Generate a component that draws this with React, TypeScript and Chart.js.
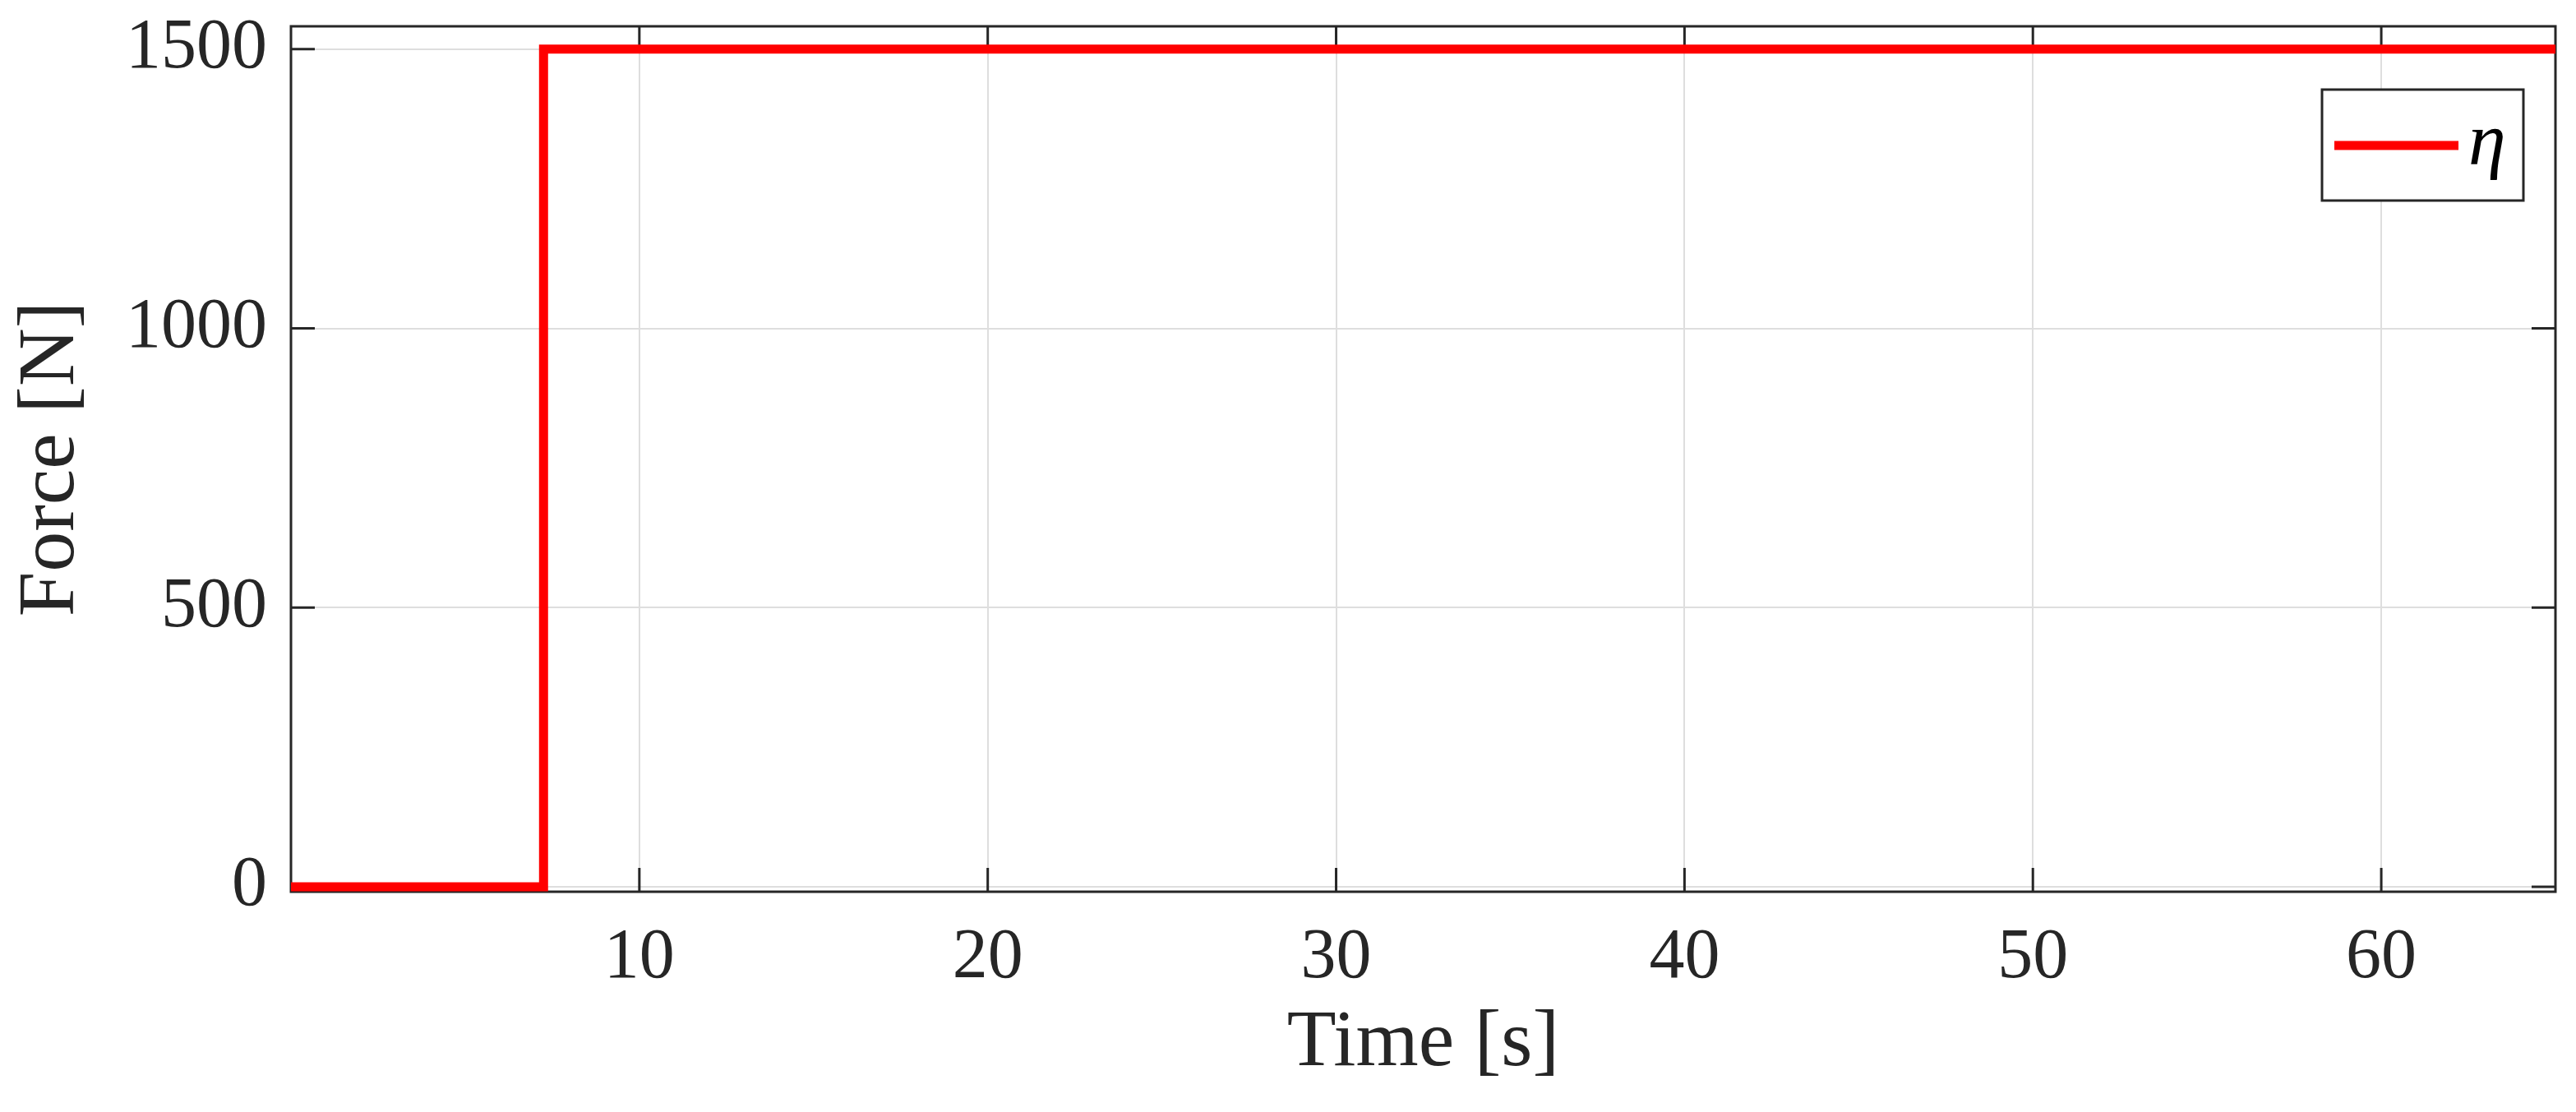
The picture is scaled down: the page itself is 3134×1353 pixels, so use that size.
import React, { useEffect, useRef } from 'react';
import { Chart, registerables } from 'chart.js';

Chart.register(...registerables);

const seriesLabel = 'η';
const timeSeconds = [0, 7.25, 7.25, 65];
const forceNewtons = [0, 0, 1500, 1500];
const xTickValues = [10, 20, 30, 40, 50, 60];
const yTickValues = [0, 500, 1000, 1500];
const xRange = [0, 65];
const yRange = [-9, 1541];
const xTitle = 'Time [s]';
const yTitle = 'Force [N]';

const FONT = "'Liberation Serif', 'Times New Roman', serif";
const INK = '#262626';
const RED = '#ff0000';

const frameAndTicks = {
  id: 'frameAndTicks',
  beforeDatasetsDraw(chart: any) {
    const { ctx, chartArea } = chart;
    const { left, right, top, bottom } = chartArea;
    const xs = chart.scales.x;
    const ys = chart.scales.y;
    const L = 29;
    ctx.save();
    ctx.strokeStyle = INK;
    ctx.lineWidth = 3;
    ctx.beginPath();
    xs.ticks.forEach((t: any) => {
      const px = xs.getPixelForValue(t.value);
      ctx.moveTo(px, bottom);
      ctx.lineTo(px, bottom - L);
      ctx.moveTo(px, top);
      ctx.lineTo(px, top + L);
    });
    ys.ticks.forEach((t: any) => {
      const py = ys.getPixelForValue(t.value);
      ctx.moveTo(left, py);
      ctx.lineTo(left + L, py);
      ctx.moveTo(right, py);
      ctx.lineTo(right - L, py);
    });
    ctx.stroke();
    ctx.strokeRect(left, top, right - left, bottom - top);
    ctx.restore();
  },
};

const boxedLegend = {
  id: 'boxedLegend',
  afterDraw(chart: any) {
    const { ctx, chartArea } = chart;
    const ds = chart.data.datasets[0];
    const bx = chartArea.right - 284;
    const by = chartArea.top + 77;
    const bw = 245;
    const bh = 135;
    ctx.save();
    ctx.fillStyle = '#ffffff';
    ctx.fillRect(bx, by, bw, bh);
    ctx.strokeStyle = INK;
    ctx.lineWidth = 3;
    ctx.strokeRect(bx, by, bw, bh);
    ctx.strokeStyle = ds.borderColor;
    ctx.lineWidth = ds.borderWidth;
    ctx.beginPath();
    ctx.moveTo(bx + 15, by + 68);
    ctx.lineTo(bx + 166, by + 68);
    ctx.stroke();
    ctx.fillStyle = '#000000';
    ctx.font = `italic 92px ${FONT}`;
    ctx.textBaseline = 'alphabetic';
    ctx.textAlign = 'left';
    ctx.fillText(ds.label, bx + 178, by + 91);
    ctx.restore();
  },
};

export default function App() {
  const ref = useRef<HTMLCanvasElement | null>(null);

  useEffect(() => {
    document.body.style.margin = '0';
    const canvas = ref.current;
    if (!canvas) return;
    const chart = new Chart(canvas, {
      type: 'line',
      data: {
        datasets: [
          {
            label: seriesLabel,
            data: timeSeconds.map((t, i) => ({ x: t, y: forceNewtons[i] })),
            borderColor: RED,
            backgroundColor: RED,
            borderWidth: 11,
            pointRadius: 0,
            tension: 0,
            fill: false,
            borderJoinStyle: 'miter',
            borderCapStyle: 'butt',
          },
        ],
      },
      options: {
        animation: false,
        responsive: false,
        devicePixelRatio: 1,
        layout: { padding: { top: 32, right: 25, left: 0, bottom: 0 } },
        plugins: {
          legend: { display: false },
          tooltip: { enabled: false },
        },
        scales: {
          x: {
            type: 'linear',
            min: xRange[0],
            max: xRange[1],
            afterBuildTicks: (scale: any) => {
              scale.ticks = xTickValues.map((v) => ({ value: v }));
            },
            afterFit: (scale: any) => {
              scale.height = 268;
              scale.paddingLeft = 0;
              scale.paddingRight = 0;
              scale.paddingTop = 0;
              scale.paddingBottom = 0;
            },
            grid: { color: '#dedede', lineWidth: 2, drawTicks: false },
            border: { display: false },
            ticks: {
              padding: 30,
              color: INK,
              font: { family: FONT, size: 86 },
              maxRotation: 0,
              autoSkip: false,
              callback: (v: any) => String(v),
            },
            title: {
              display: true,
              text: xTitle,
              color: INK,
              font: { family: FONT, size: 98 },
              padding: { top: 0, bottom: 24 },
            },
          },
          y: {
            type: 'linear',
            min: yRange[0],
            max: yRange[1],
            afterBuildTicks: (scale: any) => {
              scale.ticks = yTickValues.map((v) => ({ value: v }));
            },
            afterFit: (scale: any) => {
              scale.width = 354;
              scale.paddingLeft = 0;
              scale.paddingRight = 0;
              scale.paddingTop = 0;
              scale.paddingBottom = 0;
            },
            grid: { color: '#dedede', lineWidth: 2, drawTicks: false },
            border: { display: false },
            ticks: {
              padding: 29,
              color: INK,
              font: { family: FONT, size: 86 },
              autoSkip: false,
              callback: (v: any) => String(v),
            },
            title: {
              display: true,
              text: yTitle,
              color: INK,
              font: { family: FONT, size: 98 },
              padding: { top: 4, bottom: 0 },
            },
          },
        },
      },
      plugins: [frameAndTicks, boxedLegend],
    } as any);
    return () => chart.destroy();
  }, []);

  return (
    <canvas
      ref={ref}
      width={3134}
      height={1353}
      style={{ display: 'block', width: '3134px', height: '1353px' }}
    />
  );
}
